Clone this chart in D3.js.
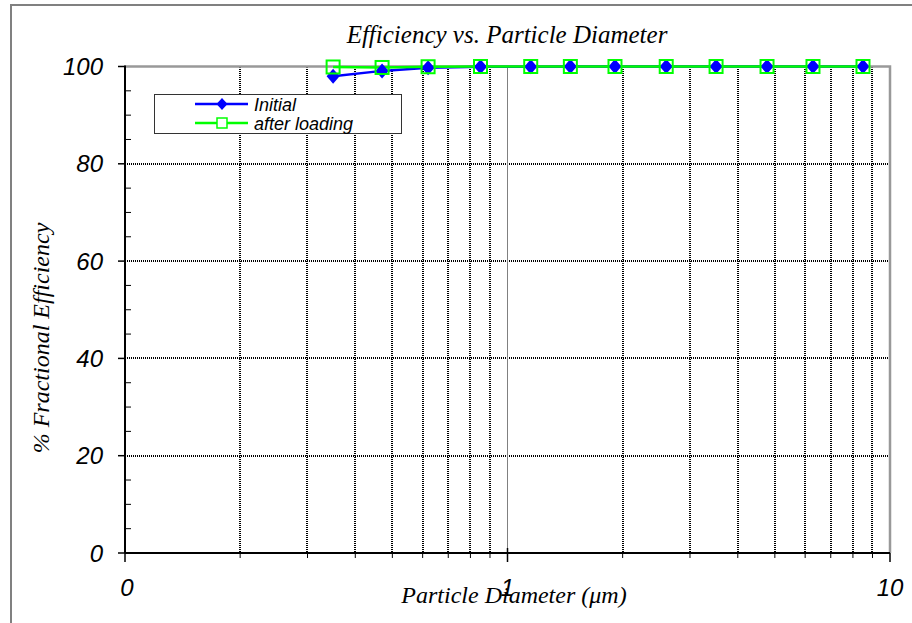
<!DOCTYPE html>
<html>
<head>
<meta charset="utf-8">
<script src="https://cdn.jsdelivr.net/npm/d3@7"></script>
<style>
  body { margin: 0; background: #fff; }
  .tick-label { font-family: "Liberation Sans", Arial, sans-serif; font-style: italic; font-size: 24px; }
  .title { font-family: "Liberation Serif", "Times New Roman", serif; font-style: italic; }
</style>
</head>
<body>
<svg width="912" height="623"></svg>
<script>
// data
var diameters = [0.35, 0.47, 0.62, 0.85, 1.15, 1.46, 1.91, 2.6, 3.51, 4.77, 6.29, 8.5];
var initial = [98.0, 99.1, 99.75, 99.95, 99.97, 99.98, 99.99, 100, 100, 100, 100, 100];
var afterLoading = [99.9, 99.8, 99.95, 100, 100, 100, 100, 100, 100, 100, 100, 100];
var yTicks = [0, 20, 40, 60, 80, 100];
var xTickLabels = ["0", "1", "10"];

var svg = d3.select("svg"),
    pLeft = 125, pRight = 890, pTop = 66.5, pBottom = 553;

// outer frame
svg.append("rect")
    .attr("x", 11).attr("y", 5)
    .attr("width", 920).attr("height", 640)
    .attr("fill", "none").attr("stroke", "#808080").attr("stroke-width", 2);

var x = d3.scaleLog().domain([0.1, 10]).range([pLeft, pRight]);
var y = d3.scaleLinear().domain([0, 100]).range([pBottom, pTop]);

var minorX = [];
[0.1, 1].forEach(function(d) {
    for (var k = 2; k <= 9; k++) minorX.push(d * k);
});

// dotted grid, snapped to whole pixels so the dots stay crisp
svg.selectAll(".vgrid")
    .data(minorX)
    .enter().append("line")
    .attr("x1", d => Math.round(x(d))).attr("x2", d => Math.round(x(d)))
    .attr("y1", Math.round(pTop)).attr("y2", pBottom)
    .attr("stroke", "#000").attr("stroke-width", 2)
    .attr("stroke-dasharray", "1,1");

svg.selectAll(".hgrid")
    .data([20, 40, 60, 80])
    .enter().append("line")
    .attr("x1", pLeft).attr("x2", pRight)
    .attr("y1", d => Math.round(y(d))).attr("y2", d => Math.round(y(d)))
    .attr("stroke", "#000").attr("stroke-width", 2)
    .attr("stroke-dasharray", "1,1");

// solid line at 1
svg.append("line")
    .attr("x1", Math.round(x(1)) + 0.5).attr("x2", Math.round(x(1)) + 0.5)
    .attr("y1", pTop).attr("y2", pBottom)
    .attr("stroke", "#808080").attr("stroke-width", 1);

// top and right frame of plot area
svg.append("path")
    .attr("d", "M" + pLeft + "," + y(100) + "H" + x(10) + "V" + pBottom)
    .attr("fill", "none").attr("stroke", "#999").attr("stroke-width", 2.5);

// y axis
var yAxis = svg.append("g");
yAxis.append("line")
    .attr("x1", pLeft).attr("x2", pLeft).attr("y1", pTop - 1).attr("y2", pBottom)
    .attr("stroke", "#000").attr("stroke-width", 2);
yAxis.selectAll(".ymin")
    .data(d3.range(5, 100, 5).filter(d => d % 20 != 0))
    .enter().append("line")
    .attr("x1", pLeft).attr("x2", pLeft + 6)
    .attr("y1", d => y(d)).attr("y2", d => y(d))
    .attr("stroke", "#000").attr("stroke-width", 1);
yAxis.selectAll(".ymaj")
    .data(yTicks)
    .enter().append("line")
    .attr("x1", pLeft - 7).attr("x2", pLeft)
    .attr("y1", d => y(d)).attr("y2", d => y(d))
    .attr("stroke", "#000").attr("stroke-width", 1.5);
yAxis.selectAll(".ylab")
    .data(yTicks)
    .enter().append("text")
    .attr("class", "tick-label")
    .attr("x", 103).attr("y", d => y(d) + 8.5)
    .attr("text-anchor", "end")
    .text(d => d);

// x axis
var xAxis = svg.append("g");
xAxis.append("line")
    .attr("x1", pLeft).attr("x2", pRight).attr("y1", pBottom).attr("y2", pBottom)
    .attr("stroke", "#000").attr("stroke-width", 2);
xAxis.selectAll(".xmin")
    .data(minorX)
    .enter().append("line")
    .attr("x1", d => x(d)).attr("x2", d => x(d))
    .attr("y1", pBottom).attr("y2", pBottom + 5)
    .attr("stroke", "#000").attr("stroke-width", 1);
xAxis.selectAll(".xmaj")
    .data([0.1, 1, 10])
    .enter().append("line")
    .attr("x1", d => x(d)).attr("x2", d => x(d))
    .attr("y1", d => d == 1 ? pBottom - 5 : pBottom).attr("y2", pBottom + 9)
    .attr("stroke", "#000").attr("stroke-width", 1.5);
xAxis.selectAll(".xlab")
    .data([0.1, 1, 10])
    .enter().append("text")
    .attr("class", "tick-label")
    .attr("x", (d, i) => x(d) + (i == 0 ? 2 : 0)).attr("y", 596)
    .attr("text-anchor", "middle")
    .text((d, i) => xTickLabels[i]);

// titles
svg.append("text")
    .attr("class", "title")
    .attr("x", 507).attr("y", 43)
    .attr("text-anchor", "middle")
    .style("font-size", "25px")
    .text("Efficiency vs. Particle Diameter");

svg.append("text")
    .attr("class", "title")
    .attr("x", 514).attr("y", 603)
    .attr("text-anchor", "middle")
    .style("font-size", "24px")
    .text("Particle Diameter (\u03bcm)");

svg.append("text")
    .attr("class", "title")
    .attr("transform", "translate(49,338) rotate(-90)")
    .attr("text-anchor", "middle")
    .style("font-size", "24px")
    .text("% Fractional Efficiency");

// series
var blue = "#0000ff", green = "#00ff00";
var line = d3.line().x(d => x(d[0])).y(d => y(d[1]));
var initPts = diameters.map((d, i) => [d, initial[i]]);
var loadPts = diameters.map((d, i) => [d, afterLoading[i]]);

svg.append("path").attr("d", line(initPts))
    .attr("fill", "none").attr("stroke", blue).attr("stroke-width", 2.5);
svg.append("path").attr("d", line(loadPts))
    .attr("fill", "none").attr("stroke", green).attr("stroke-width", 2.5);

var diamond = "M0,-7.5L6.5,0L0,7.5L-6.5,0Z";
svg.selectAll(".dia")
    .data(initPts)
    .enter().append("path")
    .attr("d", diamond)
    .attr("transform", d => "translate(" + x(d[0]) + "," + y(d[1]) + ")")
    .attr("fill", blue);
svg.selectAll(".sq")
    .data(loadPts)
    .enter().append("rect")
    .attr("x", d => x(d[0]) - 6.5).attr("y", d => y(d[1]) - 6.5)
    .attr("width", 13).attr("height", 13)
    .attr("fill", "none").attr("stroke", green).attr("stroke-width", 2);

// legend
var lg = svg.append("g");
lg.append("rect")
    .attr("x", 154.5).attr("y", 94.5).attr("width", 247).attr("height", 39)
    .attr("fill", "#fff").attr("stroke", "#333").attr("stroke-width", 1);
var entries = [["Initial", blue], ["after loading", green]];
var row = lg.selectAll(".entry").data(entries).enter().append("g")
    .attr("transform", (d, i) => "translate(0," + (104 + i * 19) + ")");
row.append("line")
    .attr("x1", 195).attr("x2", 248).attr("y1", 0).attr("y2", 0)
    .attr("stroke", d => d[1]).attr("stroke-width", 2.5);
row.filter((d, i) => i == 0).append("path")
    .attr("d", "M0,-6L5.5,0L0,6L-5.5,0Z")
    .attr("transform", "translate(222,0)")
    .attr("fill", blue);
row.filter((d, i) => i == 1).append("rect")
    .attr("x", 217).attr("y", -5).attr("width", 10).attr("height", 10)
    .attr("fill", "#fff").attr("stroke", green).attr("stroke-width", 1.5);
row.append("text")
    .attr("class", "tick-label")
    .style("font-size", "18px")
    .attr("x", 254).attr("y", 6.5)
    .text(d => d[0]);
</script>
</body>
</html>
